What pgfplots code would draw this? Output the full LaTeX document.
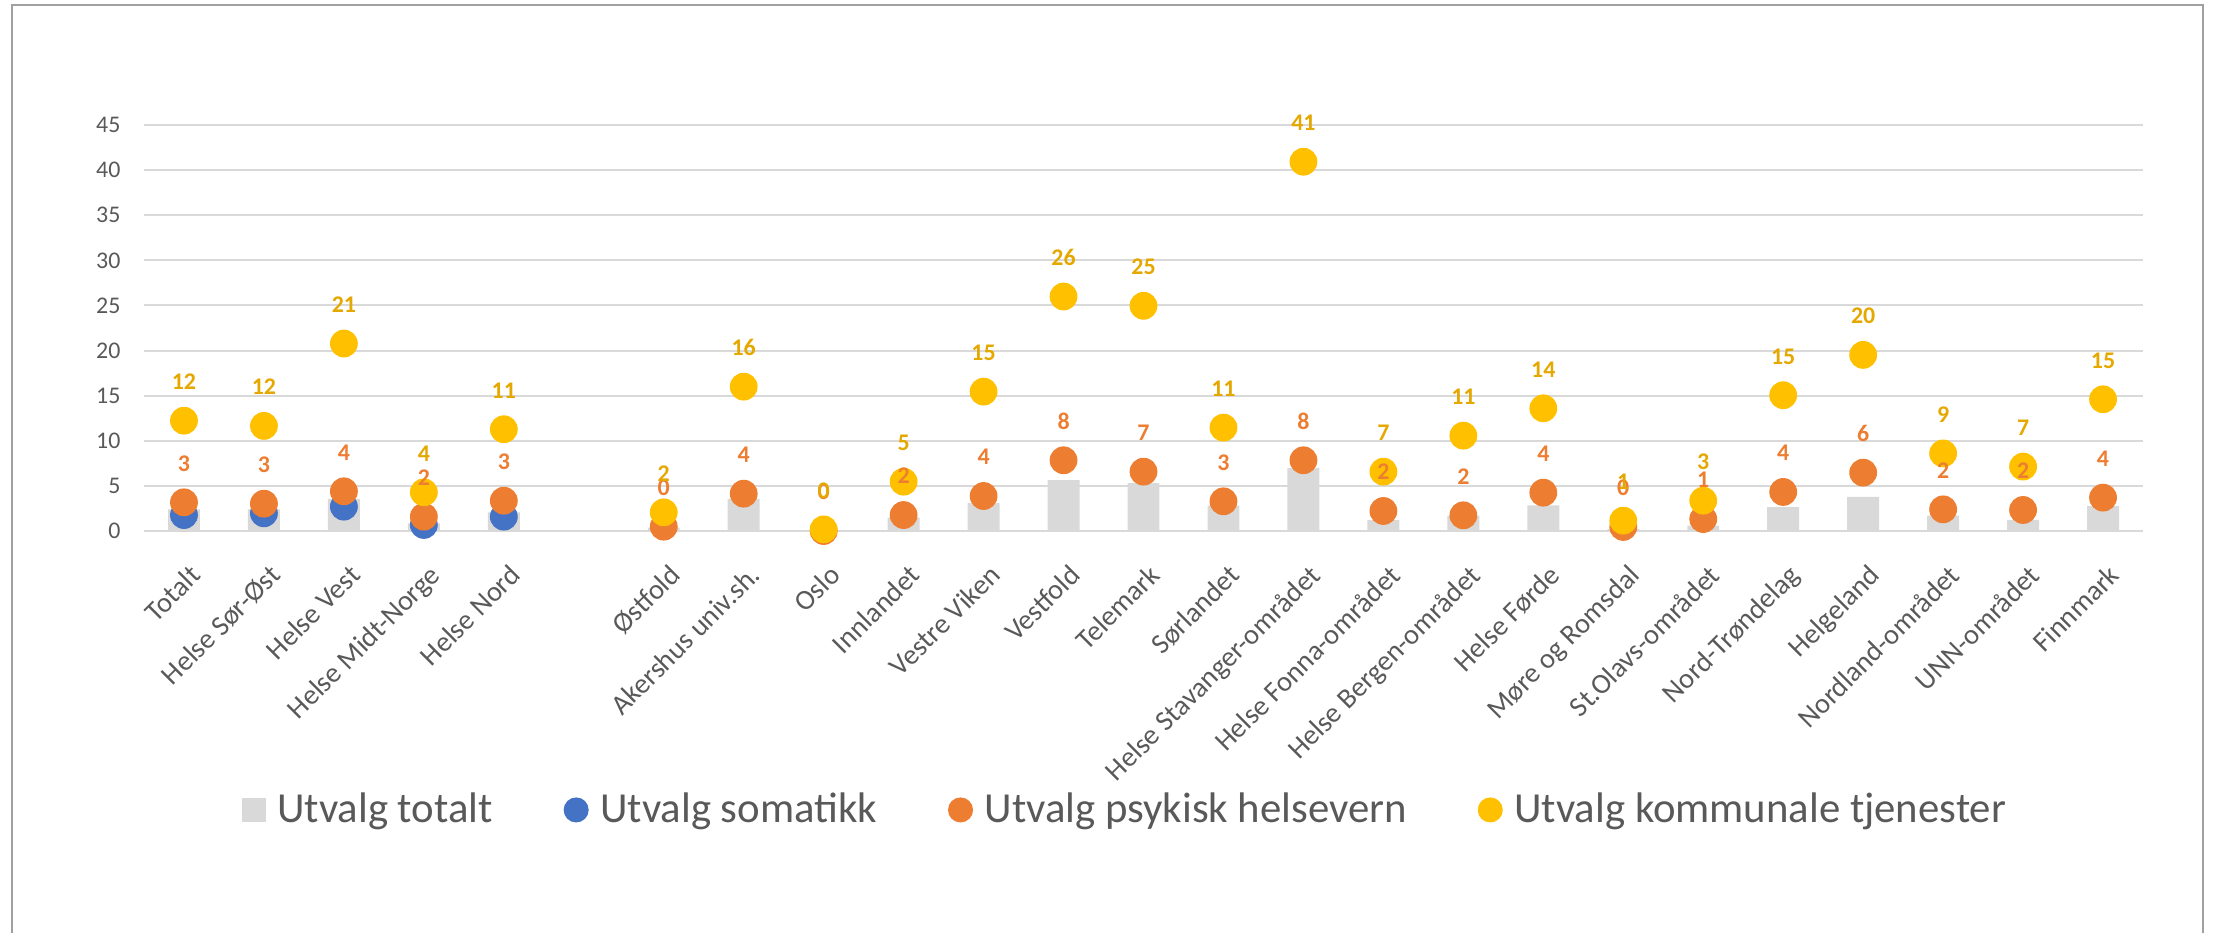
\documentclass[border=0pt]{standalone}
\usepackage{fontspec}
\setmainfont{Carlito}
\usepackage{pgfplots}
\pgfplotsset{compat=1.18}
\usepackage{pgfplotstable}
\definecolor{barGray}{HTML}{D9D9D9}
\definecolor{cBlue}{HTML}{4472C4}
\definecolor{cOrange}{HTML}{ED7D31}
\definecolor{cYellow}{HTML}{FFC000}
\definecolor{labYellow}{HTML}{E5A800}
\definecolor{labOrange}{HTML}{ED7D31}
\definecolor{txtGray}{HTML}{595959}
\definecolor{gridGray}{HTML}{D9D9D9}
\definecolor{frameGray}{HTML}{A0A0A0}

% x index: 0-4 regions, 5 empty, 6-24 areas
\pgfplotstableread{
x y
0 2.4
1 2.4
2 3.55
3 0.85
4 2.07
6 0.37
7 3.55
8 0
9 1.48
10 3.1
11 5.65
12 5.3
13 2.8
14 7.0
15 1.22
16 1.7
17 2.85
18 0.2
19 0.6
20 2.66
21 3.77
22 1.7
23 1.2
24 2.77
}\totalt

\pgfplotstableread{
x y
0 1.77
1 1.96
2 2.7
3 0.67
4 1.59
}\somatikk

\pgfplotstableread{
x y
0 3.18
1 3.03
2 4.4
3 1.59
4 3.36
6 0.48
7 4.14
8 0
9 1.77
10 3.88
11 7.84
12 6.58
13 3.29
14 7.84
15 2.22
16 1.74
17 4.25
18 0.45
19 1.33
20 4.33
21 6.47
22 2.4
23 2.33
24 3.7
}\psykisk

\pgfplotstableread{
x y
0 12.23
1 11.65
2 20.78
3 4.29
4 11.28
6 2.07
7 16.0
8 0.18
9 5.47
10 15.45
11 25.99
12 24.96
13 11.46
14 40.93
15 6.58
16 10.57
17 13.6
18 1.15
19 3.36
20 15.05
21 19.52
22 8.6
23 7.14
24 14.6
}\kommunal

\begin{document}
\begin{tikzpicture}
\path[use as bounding box] (0,0) rectangle (796.68pt,335.52pt);
\draw[frameGray, line width=1pt] (4.32pt,-2pt) -- (4.32pt,333.72pt) -- (793.08pt,333.72pt) -- (793.08pt,-2pt);
\begin{axis}[
  at={(51.84pt,144.36pt)}, anchor=south west,
  scale only axis, width=719.64pt, height=146.16pt,
  xmin=-0.5, xmax=24.5, ymin=0, ymax=45,
  clip=false,
  axis line style={draw=none},
  major tick length=0pt,
  tick style={draw=none},
  ytick={0,5,10,15,20,25,30,35,40,45},
  ymajorgrids,
  grid style={gridGray, line width=0.75pt},
  xtick={0,1,2,3,4,6,7,8,9,10,11,12,13,14,15,16,17,18,19,20,21,22,23,24},
  xticklabels={Totalt, Helse Sør-Øst, Helse Vest, Helse Midt-Norge, Helse Nord,
    Østfold, Akershus univ.sh., Oslo, Innlandet, Vestre Viken, Vestfold, Telemark,
    Sørlandet, Helse Stavanger-området, Helse Fonna-området, Helse Bergen-området,
    Helse Førde, Møre og Romsdal, St.Olavs-området, Nord-Trøndelag, Helgeland,
    Nordland-området, UNN-området, Finnmark},
  xticklabel style={font=\fontsize{10.2}{11}\selectfont, text=txtGray, inner sep=0pt,
    xshift=1.5pt, yshift=-11.3pt, rotate=45, anchor=north east},
  yticklabel style={font=\fontsize{8.6}{9}\selectfont, text=txtGray, inner sep=0pt, xshift=-8.3pt},
  /pgf/number format/assume math mode=true,
  legend columns=4,
  legend cell align=left,
  legend style={at={(0.4902,-0.687)}, anchor=center, draw=none, fill=none,
    font=\fontsize{15.4}{18}\selectfont, text=txtGray, nodes={inner sep=0pt},
    /tikz/every even column/.append style={column sep=25.5pt},
    /tikz/every odd column/.append style={column sep=4.2pt}},
]
\addplot[ybar, bar width=11.5pt, fill=barGray, draw=none,
  legend image code/.code={\fill[barGray] (0pt,-4.3pt) rectangle (8.6pt,4.3pt);}]
  table[x=x,y=y]{\totalt};
\addlegendentry{Utvalg totalt}
\addplot[only marks, mark=*, mark size=4.8pt, color=cBlue,
  legend image code/.code={\fill[cBlue] (4.3pt,0pt) circle (4.3pt);}]
  table[x=x,y=y]{\somatikk};
\addlegendentry{Utvalg somatikk}
\addplot[only marks, mark=*, mark size=4.8pt, color=cOrange,
  legend image code/.code={\fill[cOrange] (4.3pt,0pt) circle (4.3pt);}]
  table[x=x,y=y]{\psykisk};
\addlegendentry{Utvalg psykisk helsevern}
\addplot[only marks, mark=*, mark size=4.8pt, color=cYellow,
  legend image code/.code={\fill[cYellow] (4.3pt,0pt) circle (4.3pt);}]
  table[x=x,y=y]{\kommunal};
\addlegendentry{Utvalg kommunale tjenester}
% data labels (drawn on top of all markers)
\addplot[draw=none, mark=none, forget plot,
  nodes near coords={\pgfmathprintnumber[fixed,precision=0]{\pgfplotspointmeta}},
  every node near coord/.append style={anchor=center, yshift=14pt, text=labOrange,
    font=\bfseries\fontsize{8.6}{9}\selectfont, inner sep=0pt}]
  table[x=x,y=y]{\psykisk};
\addplot[draw=none, mark=none, forget plot,
  nodes near coords={\pgfmathprintnumber[fixed,precision=0]{\pgfplotspointmeta}},
  every node near coord/.append style={anchor=center, yshift=14pt, text=labYellow,
    font=\bfseries\fontsize{8.6}{9}\selectfont, inner sep=0pt}]
  table[x=x,y=y]{\kommunal};
\end{axis}
\end{tikzpicture}
\end{document}
